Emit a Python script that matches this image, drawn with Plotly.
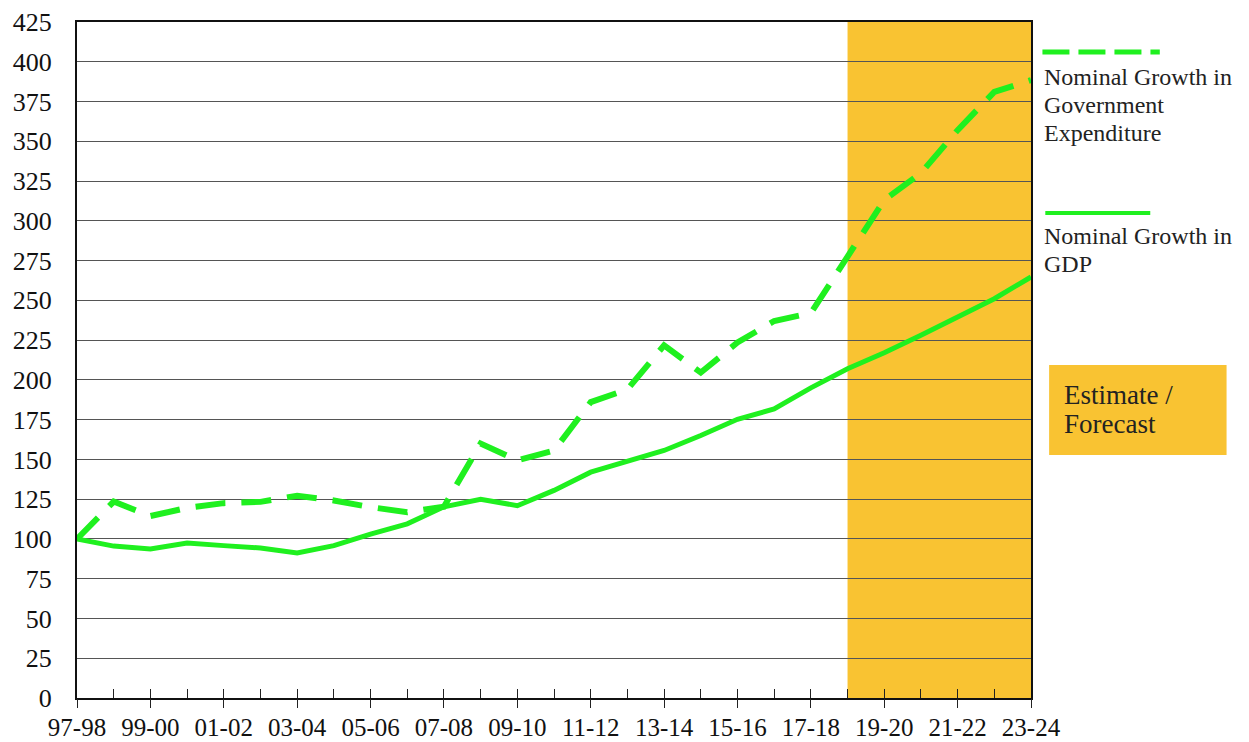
import plotly.graph_objects as go

years = ["97-98", "98-99", "99-00", "00-01", "01-02", "02-03", "03-04", "04-05",
         "05-06", "06-07", "07-08", "08-09", "09-10", "10-11", "11-12", "12-13",
         "13-14", "14-15", "15-16", "16-17", "17-18", "18-19", "19-20", "20-21",
         "21-22", "22-23", "23-24"]

gdp_growth = [100, 95.5, 93.7, 97.4, 95.8, 94.3, 91.2, 95.8, 103, 109.5, 120.2,
              125, 120.9, 130.5, 142, 148.7, 155.6, 165, 175.2, 181.7, 195,
              207, 217, 228, 239.5, 251, 264.7]

expenditure_growth = [100, 123.5, 114.4, 119.5, 122.5, 123.3, 127.2, 124.2, 120,
                      116.8, 120.3, 160, 149.4, 155.6, 186, 194, 221.7, 204.6,
                      223.5, 237, 242, 277, 313, 330, 357, 381, 388.5]

forecast_start = "18-19"
y_ticks = list(range(0, 426, 25))

exp_label = ["Nominal Growth in", "Government", "Expenditure"]
gdp_label = ["Nominal Growth in", "GDP"]
box_label = ["Estimate /", "Forecast"]

GREEN = "#1FF01F"
SHADE = "#F9C332"
FONT = "Liberation Serif, Times New Roman, serif"

idx = list(range(len(years)))
labels = [y if i % 2 == 0 else "" for i, y in enumerate(years)]


def py(px):
    # page pixel row -> paper fraction of the plot area (top 22, bottom 698)
    return (698 - px) / 676


fig = go.Figure()
fig.add_trace(go.Scatter(x=idx, y=expenditure_growth, mode="lines",
                         line=dict(color=GREEN, width=6, dash="30px,16px"),
                         name="Nominal Growth in Government Expenditure"))
fig.add_trace(go.Scatter(x=idx, y=gdp_growth, mode="lines",
                         line=dict(color=GREEN, width=5),
                         name="Nominal Growth in GDP"))
# dummy trace so the overlay axis (crossing major ticks) is drawn
fig.add_trace(go.Scatter(x=[0], y=[None], xaxis="x2", showlegend=False,
                         hoverinfo="skip", mode="lines"))

# estimate / forecast shading
fig.add_shape(type="rect", xref="x", yref="y", layer="below",
              x0=years.index(forecast_start), x1=len(years) - 1,
              y0=0, y1=max(y_ticks), fillcolor=SHADE, line_width=0)

# custom legend on the right
fig.add_shape(type="line", xref="paper", yref="paper", x0=1.012, x1=1.135,
              y0=py(52), y1=py(52), line=dict(color=GREEN, width=5, dash="27px,9px"))
for k, t in enumerate(exp_label):
    fig.add_annotation(xref="paper", yref="paper", x=1.012, y=py(77 + 28 * k),
                       xanchor="left", yanchor="middle", showarrow=False, text=t,
                       font=dict(family=FONT, size=24, color="#222"))
fig.add_shape(type="line", xref="paper", yref="paper", x0=1.015, x1=1.125,
              y0=py(213), y1=py(213), line=dict(color=GREEN, width=4))
for k, t in enumerate(gdp_label):
    fig.add_annotation(xref="paper", yref="paper", x=1.012, y=py(236 + 28 * k),
                       xanchor="left", yanchor="middle", showarrow=False, text=t,
                       font=dict(family=FONT, size=24, color="#222"))

# estimate / forecast box
fig.add_shape(type="rect", xref="paper", yref="paper", x0=1.019, x1=1.205,
              y0=py(455), y1=py(365), fillcolor=SHADE, line_width=0)
for k, t in enumerate(box_label):
    fig.add_annotation(xref="paper", yref="paper", x=1.033, y=py(395 + 29 * k),
                       xanchor="left", yanchor="middle", showarrow=False, text=t,
                       font=dict(family=FONT, size=27, color="#222"))

# page body has an 8px margin, so the figure is 8px smaller and margins shifted
fig.update_layout(
    width=1241, height=734,
    margin=dict(l=69, r=218, t=14, b=44, autoexpand=False),
    plot_bgcolor="white", paper_bgcolor="white",
    showlegend=False,
    font=dict(family=FONT, size=25, color="#111"),
    xaxis=dict(range=[0, len(years) - 1], tickvals=idx, ticktext=labels,
               ticks="inside", ticklen=9, tickcolor="#222", tickwidth=1,
               showgrid=False, zeroline=False, showline=True, linecolor="#111",
               linewidth=2, mirror=True, tickfont=dict(size=25),
               ticklabelstandoff=6, automargin=False),
    xaxis2=dict(overlaying="x", matches="x", side="bottom", anchor="y",
                tickvals=idx[::2], ticks="outside", ticklen=9, tickcolor="#222",
                tickwidth=1, showticklabels=False, showgrid=False,
                zeroline=False, showline=False, automargin=False),
    yaxis=dict(range=[0, 425], tickvals=y_ticks, ticks="", showgrid=True,
               gridcolor="#555", gridwidth=1, zeroline=False, showline=True,
               linecolor="#111", linewidth=2, mirror=True,
               tickfont=dict(size=26), ticklabelstandoff=18, automargin=False),
)

fig.write_html("out.html")
